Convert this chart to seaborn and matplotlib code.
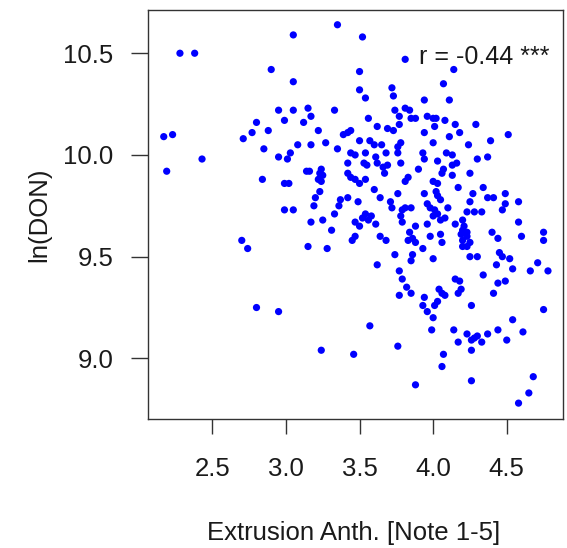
import matplotlib
matplotlib.use("Agg")
import matplotlib.pyplot as plt
import seaborn as sns
import numpy as np

# Values
extrusion = [2.28, 2.38, 2.90, 2.95, 2.99, 2.80, 2.88, 2.77, 2.71, 2.17, 2.23, 2.85, 2.95, 3.01, 2.43, 2.19, 2.84, 2.99, 2.99, 2.70, 2.74, 2.80, 2.95,
             3.35, 3.05, 3.52, 3.81, 3.50, 3.05, 3.50, 3.54, 3.72, 3.73, 3.94, 3.05, 3.15, 3.17, 3.33, 3.12, 3.22, 3.56, 3.62, 3.69, 3.73, 3.77,
             3.74, 3.77, 3.81, 3.84, 3.85, 3.88, 3.94, 3.39, 3.42, 3.44, 3.50, 3.57, 3.60, 3.65, 3.08, 3.17, 3.27, 3.35,
             4.14, 4.07, 4.11, 3.96, 4.00, 4.02, 4.01, 4.08, 4.15, 4.18, 4.11, 4.00, 4.24, 4.29, 4.39, 4.51,
             3.76, 3.78, 3.03, 3.44, 3.47, 3.54, 3.61, 3.68, 3.76, 3.78, 3.42, 3.53, 3.55, 3.62, 3.66, 3.69, 3.67, 3.93, 3.90,
             3.14, 3.16, 3.24, 3.23, 3.25, 3.22, 3.24, 3.42, 3.44, 3.47, 3.50, 3.54, 3.02, 3.83, 3.81, 3.60, 3.23, 3.20, 3.19,
             3.64, 3.76, 3.94, 3.42, 3.37, 3.36, 3.49, 3.71, 3.72, 3.05, 3.33, 3.54, 3.52, 3.56, 3.58, 3.47, 3.50, 3.61,
             3.79, 3.81, 3.85, 3.78, 3.79, 3.17, 3.25, 3.31, 3.88, 3.47, 3.45, 3.64, 3.68, 3.84, 3.83, 3.86, 3.88, 3.93,
             3.15, 3.28, 3.74, 3.86, 3.85, 3.62, 3.77, 3.79,
             3.94, 4.09, 4.13, 4.03, 4.16, 4.13, 4.30, 4.37, 4.07, 4.06, 4.13, 4.25, 4.00, 4.03, 4.17, 4.34, 4.02, 4.03, 4.05,
             4.27, 4.37, 4.41, 4.49, 4.58, 4.25, 4.49, 4.47, 3.96, 3.98, 4.01, 4.03, 4.00, 4.10, 4.23, 4.28, 4.33, 4.05, 4.08,
             4.20, 4.21, 3.96, 4.15, 4.58, 4.20, 4.23, 4.19, 4.23, 4.20, 4.25, 4.40, 4.05, 4.06, 3.98, 4.44, 4.60, 4.75, 4.75,
             4.20, 4.23, 4.45, 4.47, 4.52, 4.25, 4.30, 4.00, 4.43, 4.54, 4.71, 4.66, 4.78, 4.34,
             3.82, 3.85, 3.77, 3.57, 3.24, 3.46, 3.76, 3.88,
             4.15, 4.18, 4.19, 4.17, 4.44, 4.49, 4.41, 4.04, 4.08, 4.06, 3.94, 3.93, 3.96, 4.00, 4.01, 4.03, 4.26, 4.75, 4.54,
             3.99, 4.14, 4.23, 4.26, 4.30, 4.33, 4.37, 4.17, 4.28, 4.44, 4.50, 4.61, 4.26, 4.07, 4.06, 4.26, 4.68, 4.65, 4.58]

ln_don = [10.50, 10.50, 10.42, 10.22, 10.17, 10.16, 10.12, 10.11, 10.08, 10.09, 10.10, 10.03, 9.99, 9.98, 9.98, 9.92, 9.88, 9.86, 9.73, 9.58, 9.54, 9.25, 9.23,
          10.64, 10.59, 10.58, 10.47, 10.41, 10.36, 10.32, 10.28, 10.33, 10.29, 10.27, 10.22, 10.23, 10.19, 10.22, 10.16, 10.12, 10.18, 10.14, 10.13, 10.12, 10.15,
          10.22, 10.19, 10.23, 10.22, 10.18, 10.18, 10.11, 10.10, 10.11, 10.12, 10.07, 10.07, 10.05, 10.05, 10.05, 10.05, 10.06, 10.03,
          10.42, 10.35, 10.27, 10.19, 10.18, 10.18, 10.14, 10.17, 10.15, 10.11, 10.09, 10.06, 10.05, 10.15, 10.07, 10.10,
          10.04, 10.06, 10.01, 10.01, 10.00, 10.01, 9.99, 10.01, 10.01, 9.96, 9.96, 9.96, 9.95, 9.96, 9.94, 9.95, 9.91, 10.01, 9.93,
          9.92, 9.92, 9.93, 9.91, 9.90, 9.88, 9.87, 9.91, 9.89, 9.88, 9.86, 9.88, 9.86, 9.89, 9.87, 9.83, 9.82, 9.79, 9.75,
          9.79, 9.81, 9.81, 9.79, 9.78, 9.75, 9.77, 9.77, 9.74, 9.73, 9.71, 9.71, 9.69, 9.68, 9.70, 9.67, 9.65, 9.66,
          9.73, 9.74, 9.74, 9.70, 9.67, 9.67, 9.68, 9.63, 9.65, 9.60, 9.58, 9.60, 9.58, 9.62, 9.58, 9.59, 9.57, 9.54,
          9.55, 9.54, 9.51, 9.51, 9.48, 9.46, 9.43, 9.39,
          9.98, 10.01, 10.00, 9.97, 9.96, 9.95, 9.98, 9.99, 9.93, 9.91, 9.90, 9.91, 9.87, 9.86, 9.84, 9.84, 9.82, 9.80, 9.78,
          9.81, 9.79, 9.79, 9.81, 9.77, 9.77, 9.76, 9.73, 9.76, 9.74, 9.73, 9.71, 9.70, 9.74, 9.72, 9.72, 9.72, 9.68, 9.69,
          9.68, 9.65, 9.66, 9.66, 9.67, 9.63, 9.62, 9.61, 9.60, 9.58, 9.57, 9.62, 9.61, 9.57, 9.60, 9.59, 9.60, 9.62, 9.58,
          9.55, 9.55, 9.52, 9.50, 9.49, 9.50, 9.50, 9.49, 9.46, 9.44, 9.47, 9.43, 9.43, 9.41,
          9.35, 9.32, 9.31, 9.16, 9.04, 9.02, 9.06, 8.87,
          9.39, 9.38, 9.34, 9.32, 9.37, 9.38, 9.32, 9.34, 9.31, 9.32, 9.30, 9.26, 9.23, 9.20, 9.26, 9.28, 9.26, 9.24, 9.19,
          9.14, 9.14, 9.12, 9.09, 9.11, 9.08, 9.12, 9.08, 9.10, 9.14, 9.09, 9.13, 9.04, 9.02, 8.96, 8.89, 8.91, 8.83, 8.78]

x_ticks = [2.5, 3.0, 3.5, 4.0, 4.5]
x_tick_labels = ["2.5", "3.0", "3.5", "4.0", "4.5"]
y_ticks = [9.0, 9.5, 10.0, 10.5]
y_tick_labels = ["9.0", "9.5", "10.0", "10.5"]
annotation = "r = -0.44 ***"
x_label = "Extrusion Anth. [Note 1-5]"
y_label = "ln(DON)"

sns.set_style("white")
plt.rcParams["font.family"] = ["Liberation Sans", "DejaVu Sans"]

txt = "#1a1a1a"
edge = "#333333"

fig = plt.figure(figsize=(5.67, 5.48), dpi=100)
ax = fig.add_axes([148 / 567, 1 - 419 / 548, (562.7 - 148) / 567, (419 - 9.5) / 548])

n = min(len(extrusion), len(ln_don))
sns.scatterplot(x=extrusion[:n], y=ln_don[:n], ax=ax, color="#0000ff", s=27,
                linewidth=0, edgecolor="none", legend=False)

ax.set_xlim(2.063, 4.88)
ax.set_ylim(8.702, 10.715)

ax.set_xticks(x_ticks)
ax.set_xticklabels(x_tick_labels)
ax.set_yticks(y_ticks)
ax.set_yticklabels(y_tick_labels)

ax.tick_params(axis="x", direction="out", length=11, width=1.0, color=edge,
               labelsize=18.5, labelcolor=txt, pad=16.5, bottom=True)
ax.tick_params(axis="y", direction="out", length=12.5, width=1.0, color=edge,
               labelsize=18.5, labelcolor=txt, pad=12.5, left=True)

for s in ax.spines.values():
    s.set_visible(True)
    s.set_color(edge)
    s.set_linewidth(1.0)

ax.set_xlabel(x_label, fontsize=18.5, color=txt)
ax.xaxis.set_label_coords(0.495, -0.248)
ax.set_ylabel(y_label, fontsize=18.5, color=txt)
ax.yaxis.set_label_coords(-0.234, 0.5)

ax.text(0.969, 0.868, annotation, transform=ax.transAxes, ha="right", va="baseline",
        fontsize=18, color=txt)

fig.savefig("out.png", dpi=100)
